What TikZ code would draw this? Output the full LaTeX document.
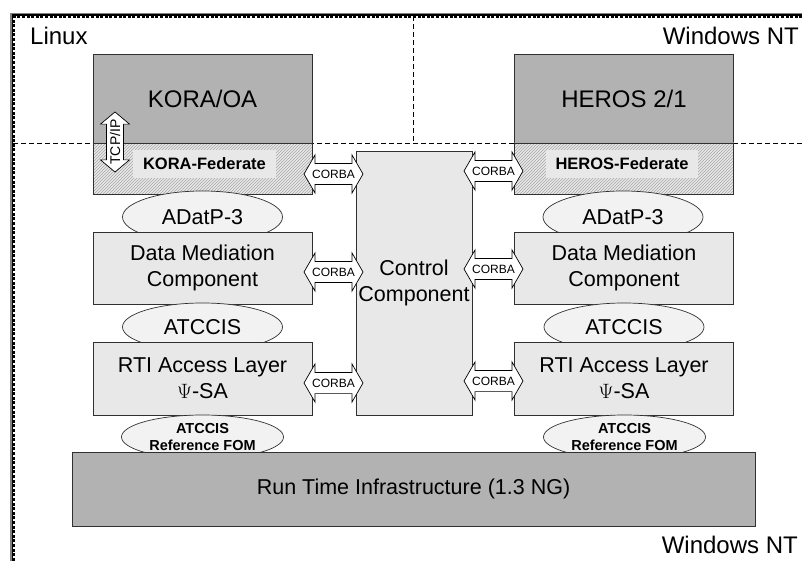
\documentclass[tikz,border=0pt]{standalone}
\usepackage{fontspec}
\setmainfont{Liberation Sans}
\usetikzlibrary{shapes.geometric,shapes.arrows,patterns}
\definecolor{darkbox}{HTML}{B2B2B2}
\definecolor{lightbox}{HTML}{E8E8E8}
\definecolor{ovalfill}{HTML}{F2F2F2}
\definecolor{hatchline}{HTML}{A8A8A8}
\definecolor{edge}{HTML}{303030}
\newcommand{\bigfont}{\fontsize{24}{28}\selectfont}
\newcommand{\midfont}{\fontsize{21.5}{26}\selectfont}
\newcommand{\fedfont}{\fontsize{16.5}{20}\selectfont\bfseries}
\newcommand{\fomfont}{\fontsize{14.5}{17}\selectfont\bfseries}

\begin{document}
\begin{tikzpicture}[x=1pt,y=-1pt,
  app/.style={draw=edge,line width=0.8pt,fill=darkbox,minimum width=219pt,minimum height=89pt,inner sep=0pt,font=\bigfont},
  fed/.style={draw=edge,line width=0.8pt,preaction={fill=lightbox},pattern=north east lines,pattern color=hatchline,minimum width=219pt,minimum height=51pt},
  fedlabel/.style={fill=lightbox,minimum height=28pt,inner xsep=0pt,font=\fedfont},
  layer/.style={draw=edge,line width=0.8pt,fill=lightbox,minimum width=219pt,minimum height=72pt,inner sep=0pt,align=center,font=\midfont},
  oval/.style={ellipse,draw=edge,line width=0.7pt,fill=ovalfill,minimum width=160pt,minimum height=48pt,inner sep=0pt},
  corba/.style={double arrow,draw=black,line width=0.7pt,fill=white,minimum height=59pt,double arrow head extend=8.5pt,double arrow tip angle=120,inner xsep=1pt,inner ysep=6pt,font=\fontsize{12}{14}\selectfont},
  oslabel/.style={font=\bigfont,inner sep=0pt},
  zone/.style={dashed,dash pattern=on 5pt off 3pt,line width=0.8pt}]
  \useasboundingbox (0,0) rectangle (802,561);

  % outer frame and the machine borders
  \draw[gray,line width=1.4pt] (10.8,570) -- (10.8,13.6) -- (810,13.6);
  \draw[line width=1.2pt] (12.3,570) -- (12.3,15.1) -- (810,15.1);
  \draw[line width=2.6pt,dash pattern=on 3pt off 1.6pt] (14,570) -- (14,16.8) -- (810,16.8);
  \draw[zone] (13,143) -- (802,143);
  \draw[zone] (413,16) -- (413,143);

  \node[oslabel,anchor=base west] (linux) at (30,45) {Linux};
  \node[oslabel,anchor=base east] (winnt) at (799,45) {Windows NT};
  \node[oslabel,anchor=base east] (winrti) at (798,553) {Windows NT};

  % the two simulation systems
  \node[app] (kora) at (202.5,98.5) {KORA/OA};
  \node[app] (heros) at (624,98.5) {HEROS 2/1};
  \node[fed] (korafed) at (202.5,168.5) {};
  \node[fed] (herosfed) at (624,168.5) {};
  \node[fedlabel,minimum width=143pt] (korafedtxt) at (204.5,164) {KORA-Federate};
  \node[fedlabel,minimum width=152pt] (herosfedtxt) at (622,164) {HEROS-Federate};
  \node[double arrow,draw=black,line width=0.7pt,fill=white,rotate=90,minimum height=58pt,double arrow head extend=6pt,double arrow tip angle=100,inner xsep=0pt,inner ysep=3pt,font=\fontsize{14}{16}\selectfont] (tcpip) at (115,142) {TCP/IP};

  % left column, top to bottom
  \node[oval,font=\midfont,minimum height=52pt] (adatpl) at (202.5,217) {ADatP-3};
  \node[layer] (dmcl) at (202.5,268) {Data Mediation\\Component};
  \node[oval,font=\midfont] (atccisl) at (202.5,327) {ATCCIS};
  \node[layer,minimum height=73pt] (rtial) at (202.5,378.5) {RTI Access Layer\\$\Psi$-SA};
  \node[oval,align=center,font=\fomfont,minimum width=162pt,minimum height=44pt] (foml) at (202.5,437) {ATCCIS\\Reference FOM};

  % right column, top to bottom
  \node[oval,font=\midfont,minimum height=52pt] (adatpr) at (623,217) {ADatP-3};
  \node[layer] (dmcr) at (624,268) {Data Mediation\\Component};
  \node[oval,font=\midfont] (atccisr) at (624,327) {ATCCIS};
  \node[layer,minimum height=73pt] (rtiar) at (624,378.5) {RTI Access Layer\\$\Psi$-SA};
  \node[oval,align=center,font=\fomfont,minimum width=162pt,minimum height=44pt] (fomr) at (624.5,437) {ATCCIS\\Reference FOM};

  \node[draw=edge,line width=0.8pt,fill=darkbox,minimum width=683pt,minimum height=74pt,font=\midfont] (rti) at (413.5,489) {Run Time Infrastructure (1.3 NG)};
  \node[layer,minimum width=116pt,minimum height=264pt] (ctrl) at (414,283) {Control\\Component};

  % CORBA links to the control component
  \node[corba] (c1) at (333.5,174) {CORBA};
  \node[corba] (c2) at (493.5,171) {CORBA};
  \node[corba] (c3) at (333.5,272) {CORBA};
  \node[corba] (c4) at (493.5,269) {CORBA};
  \node[corba] (c5) at (333.5,383) {CORBA};
  \node[corba] (c6) at (493.5,381) {CORBA};
\end{tikzpicture}
\end{document}
